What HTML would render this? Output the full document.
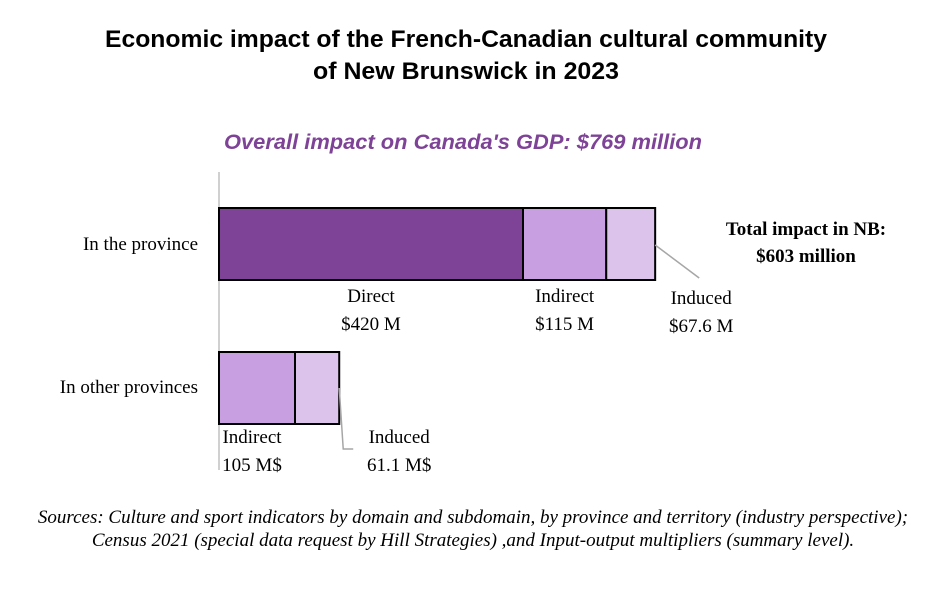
<!DOCTYPE html>
<html><head><meta charset="utf-8"><style>
body{margin:0;background:#fff;}
svg{display:block;}
.t{font-family:"Liberation Sans",sans-serif;font-weight:bold;font-size:24px;fill:#000;}
.s{font-family:"Liberation Serif",serif;font-size:19px;fill:#000;}
</style></head><body>
<svg id="c" width="946" height="590">
<text class="t" x="466" y="47" text-anchor="middle" textLength="722" lengthAdjust="spacingAndGlyphs">Economic impact of the French-Canadian cultural community</text>
<text class="t" x="466" y="79" text-anchor="middle" textLength="306" lengthAdjust="spacingAndGlyphs">of New Brunswick in 2023</text>
<text x="463" y="149" text-anchor="middle" textLength="478" lengthAdjust="spacingAndGlyphs" style="font-family:'Liberation Sans',sans-serif;font-weight:bold;font-style:italic;font-size:21px;fill:#7E4397">Overall impact on Canada's GDP: $769 million</text>
<line x1="219" y1="172" x2="219" y2="470" stroke="#d0d0d0" stroke-width="2"/>
<text class="s" x="198" y="250" text-anchor="end">In the province</text>
<text class="s" x="198" y="393" text-anchor="end">In other provinces</text>
<g id="bars"></g>
<text class="s" x="806" y="235" text-anchor="middle" font-weight="bold">Total impact in NB:</text>
<text class="s" x="806" y="262" text-anchor="middle" font-weight="bold">$603 million</text>
<text class="s" x="473" y="523" text-anchor="middle" font-style="italic" font-size="16">Sources: Culture and sport indicators by domain and subdomain, by province and territory (industry perspective);</text>
<text class="s" x="473" y="546" text-anchor="middle" font-style="italic" font-size="16">Census 2021 (special data request by Hill Strategies) ,and Input-output multipliers (summary level).</text>
</svg>
<script>
const provinceValues=[420,115,67.6];
const otherValues=[105,61.1];
const provinceLabels=["Direct","Indirect","Induced"];
const provinceValueLabels=["$420 M","$115 M","$67.6 M"];
const otherLabels=["Indirect","Induced"];
const otherValueLabels=["105 M$","61.1 M$"];
const colors={Direct:"#7E4397",Indirect:"#C8A0E2",Induced:"#DCC3EC"};
const NS="http://www.w3.org/2000/svg";
const x0=219, k=304/420;
const X=v=>x0+v*k;
const g=document.getElementById('bars');
function mk(tag,attrs){const e=document.createElementNS(NS,tag);for(const a in attrs)e.setAttribute(a,attrs[a]);g.appendChild(e);return e;}
function txt(x,y,s,name){const e=mk('text',{x:x,y:y,'class':'s','text-anchor':'middle'});e.textContent=s;

return e;}
function row(vals,labels,vlabels,y0,h,key,labelPos){
 let c=0;const ends=[];
 vals.forEach((v,i)=>{
  const r=mk('rect',{x:X(c),y:y0,width:X(c+v)-X(c),height:h,fill:colors[labels[i]],stroke:'#000','stroke-width':2});
  
  
  ends.push([X(c),X(c+v)]);c+=v;});
 labelPos(ends,c);
}
row(provinceValues,provinceLabels,provinceValueLabels,208,72,'province',(ends,tot)=>{
 for(let i=0;i<2;i++){const cx=(ends[i][0]+ends[i][1])/2;
  txt(cx,302,provinceLabels[i],'label-province-'+provinceLabels[i].toLowerCase());
  txt(cx,330,provinceValueLabels[i],'value-province-'+provinceLabels[i].toLowerCase());}
 const ex=X(tot);
 const l=mk('line',{x1:ex,y1:245,x2:ex+44,y2:278,stroke:'#a6a6a6','stroke-width':1.5});
 
 
 txt(ex+46,304,provinceLabels[2],'label-province-induced');
 txt(ex+46,332,provinceValueLabels[2],'value-province-induced');
});
row(otherValues,otherLabels,otherValueLabels,352,72,'other',(ends,tot)=>{
 const cx=(ends[0][0]+ends[0][1])/2-5;
 txt(cx,443,otherLabels[0],'label-other-indirect');
 txt(cx,471,otherValueLabels[0],'value-other-indirect');
 const ex=X(tot);
 const l=mk('polyline',{points:`${ex},388 ${ex+4},449 ${ex+14},449`,fill:'none',stroke:'#a6a6a6','stroke-width':1.5});
 
 
 txt(ex+60,443,otherLabels[1],'label-other-induced');
 txt(ex+60,471,otherValueLabels[1],'value-other-induced');
});
</script>
</body></html>
